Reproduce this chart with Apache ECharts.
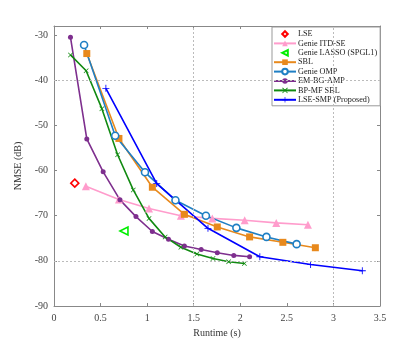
<!DOCTYPE html>
<html>
<head>
<meta charset="utf-8">
<script src="https://cdn.jsdelivr.net/npm/echarts@6/dist/echarts.min.js"></script>
<style>
  html, body { margin: 0; padding: 0; background: #fff; }
  #chart { width: 420px; height: 345px; }
</style>
</head>
<body>
<div id="chart"></div>
<script>
// runtime (s) and NMSE (dB)
const lseX = [0.223]
const lseY = [-62.8]
const itdX = [0.342, 0.697, 1.02, 1.362, 1.70, 2.047, 2.386, 2.726]
const itdY = [-63.5, -66.4, -68.4, -70.0, -70.6, -71.0, -71.6, -72.0]
const lassoX = [0.751]
const lassoY = [-73.4]
const sblX = [0.352, 0.697, 1.056, 1.40, 1.753, 2.10, 2.457, 2.806]
const sblY = [-34.1, -52.9, -63.7, -69.7, -72.5, -74.7, -75.9, -77.1]
const ompX = [0.323, 0.657, 0.977, 1.304, 1.631, 1.958, 2.281, 2.605]
const ompY = [-32.2, -52.3, -60.4, -66.6, -70.0, -72.7, -74.7, -76.3]
const ampX = [0.177, 0.352, 0.528, 0.708, 0.880, 1.056, 1.229, 1.40, 1.58, 1.753, 1.93, 2.10]
const ampY = [-30.5, -53.0, -60.3, -66.5, -70.2, -73.5, -75.2, -76.7, -77.5, -78.2, -78.8, -79.1]
const bpX = [0.177, 0.345, 0.514, 0.683, 0.851, 1.02, 1.193, 1.362, 1.534, 1.707, 1.875, 2.044]
const bpY = [-34.4, -37.9, -46.3, -56.5, -64.3, -70.6, -74.7, -77.0, -78.5, -79.5, -80.2, -80.6]
const smpX = [0.557, 1.103, 1.653, 2.21, 2.755, 3.31]
const smpY = [-41.8, -62.9, -72.8, -79.1, -80.8, -82.2]

const names = ['LSE', 'Genie ITD-SE', 'Genie LASSO (SPGL1)', 'SBL', 'Genie OMP', 'EM-BG-AMP', 'BP-MF SBL', 'LSE-SMP (Proposed)']

const zip = (xs, ys) => xs.map((x, i) => [x, ys[i]])

const plus = 'path://M4.4,0 L5.6,0 L5.6,4.4 L10,4.4 L10,5.6 L5.6,5.6 L5.6,10 L4.4,10 L4.4,5.6 L0,5.6 L0,4.4 L4.4,4.4 Z'
const cross = 'path://M0,1 L1,0 L5,4 L9,0 L10,1 L6,5 L10,9 L9,10 L5,6 L1,10 L0,9 L4,5 Z'

const font = 'Liberation Serif'

let chart = echarts.init(document.getElementById('chart'))

function line(name, xs, ys, color, symbol, size, hollow) {
  return {
    name: name,
    type: 'line',
    data: zip(xs, ys),
    symbol: symbol,
    symbolSize: size,
    showAllSymbol: true,
    lineStyle: { color: color, width: 1.6 },
    itemStyle: hollow ? { color: '#fff', borderColor: color, borderWidth: 1.6 } : { color: color, borderColor: color, borderWidth: 0 },
    emphasis: { disabled: true },
    z: 3
  }
}

// single-point methods: marker only, no line in the legend
let lse = line(names[0], lseX, lseY, '#ff0000', 'diamond', 8, true)
lse.lineStyle.opacity = 0
let lasso = line(names[2], lassoX, lassoY, '#00ee00', 'triangle', 8, true)
lasso.lineStyle.opacity = 0
lasso.symbolRotate = 90

const option = {
  animation: false,
  grid: { left: 54, right: 40, top: 26, bottom: 39 },
  legend: {
    data: names,
    orient: 'vertical',
    left: 272,
    top: 27,
    padding: [3, 3, 2, 1],
    backgroundColor: '#fff',
    borderColor: '#999',
    borderWidth: 1,
    itemWidth: 22,
    itemHeight: 7,
    itemGap: 1.4,
    textStyle: { fontFamily: font, fontSize: 8.2, color: '#222', padding: [0, 0, 0, -3] }
  },
  xAxis: [
    {
      type: 'value', min: 0, max: 3.5, interval: 0.5,
      name: 'Runtime (s)', nameLocation: 'middle', nameGap: 20,
      nameTextStyle: { fontFamily: font, fontSize: 10, color: '#333' },
      axisLine: { onZero: false, lineStyle: { color: '#888', width: 1 } },
      axisTick: { inside: true, length: 3, lineStyle: { color: '#888' } },
      axisLabel: { fontFamily: font, fontSize: 10, color: '#444', margin: 7 },
      splitLine: { show: false }
    },
    {
      type: 'value', min: 0, max: 3.5, interval: 0.5, position: 'top',
      axisLine: { onZero: false, lineStyle: { color: '#888', width: 1 } },
      axisTick: { inside: true, length: 3, lineStyle: { color: '#888' } },
      axisLabel: { show: false },
      splitLine: { show: false }
    }
  ],
  yAxis: [
    {
      type: 'value', min: -90, max: -28, interval: 10,
      name: 'NMSE (dB)', nameLocation: 'middle', nameGap: 25, nameRotate: 90,
      nameTextStyle: { fontFamily: font, fontSize: 10, color: '#333' },
      axisLine: { onZero: false, lineStyle: { color: '#888', width: 1 } },
      axisTick: { inside: true, length: 3, lineStyle: { color: '#888' } },
      axisLabel: {
        fontFamily: font, fontSize: 10, color: '#444', margin: 6,
        formatter: v => (v % 10 === 0 ? String(v) : '')
      },
      splitLine: { show: false }
    },
    {
      type: 'value', min: -90, max: -28, interval: 10, position: 'right',
      axisLine: { onZero: false, lineStyle: { color: '#888', width: 1 } },
      axisTick: { inside: true, length: 3, lineStyle: { color: '#888' } },
      axisLabel: { show: false },
      splitLine: { show: false }
    }
  ],
  series: [
    {
      type: 'line', data: [], silent: true, z: 1,
      markLine: {
        silent: true, symbol: 'none', label: { show: false },
        lineStyle: { color: '#bbb', width: 1, type: [2, 2] },
        data: [{ xAxis: 1.5 }, { xAxis: 3 }, { yAxis: -40 }, { yAxis: -80 }]
      }
    },
    lse,
    line(names[1], itdX, itdY, '#ff9ccc', 'triangle', 8, false),
    lasso,
    line(names[3], sblX, sblY, '#e8891c', 'rect', 7, false),
    line(names[4], ompX, ompY, '#1f7fc4', 'circle', 7, true),
    line(names[5], ampX, ampY, '#7e2f8e', 'circle', 5, false),
    line(names[6], bpX, bpY, '#118a11', cross, 5, false),
    line(names[7], smpX, smpY, '#0000ff', plus, 7, false)
  ]
}

chart.setOption(option)
</script>
</body>
</html>
